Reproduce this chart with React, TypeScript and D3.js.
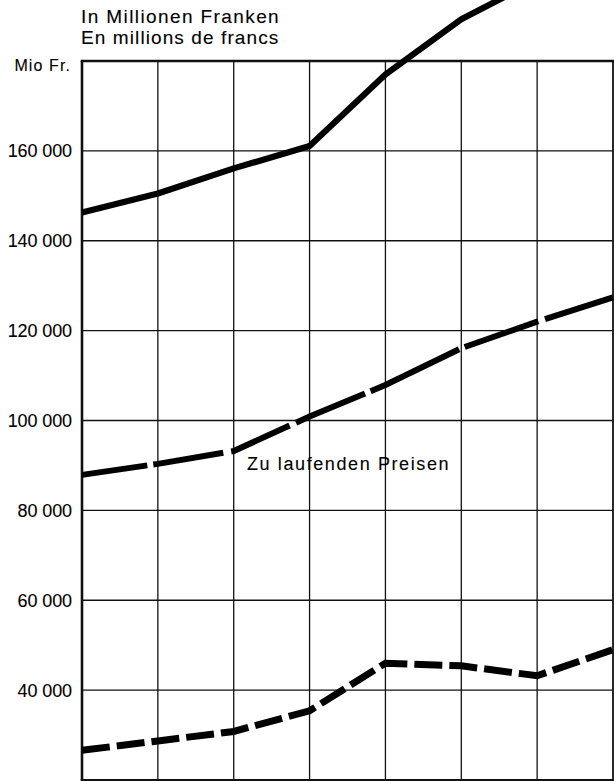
import React from "react";
import * as d3 from "d3";

// x positions: one per period (gridline)
const periods = [0, 1, 2, 3, 4, 5, 6, 7];
// y-axis tick values and labels
const yTicks = [40000, 60000, 80000, 100000, 120000, 140000, 160000];
const yTickLabels = ["40 000", "60 000", "80 000", "100 000", "120 000", "140 000", "160 000"];
const topLabel = "Mio Fr.";
const titleLines = ["In Millionen Franken", "En millions de francs"];
const seriesLabel = "Zu laufenden Preisen";

// series values (Mio Fr.)
const solidSeries = [146300, 150500, 156100, 161100, 177000, 189300, 198000, 207000];
const midDashedSeries = [87900, 90350, 93200, 100900, 107900, 116100, 122000, 127400];
const lowDashedSeries = [26600, 28700, 30800, 35400, 46000, 45400, 43200, 49000];

const W = 614;
const H = 781;

export default function App() {
  const x = d3.scaleLinear().domain([0, 7]).range([82, 613]);
  const y = d3.scaleLinear().domain([20000, 180000]).range([780, 61]);
  const line = d3
    .line<number>()
    .x((_, i) => x(periods[i]))
    .y((d) => y(d));

  const font = "'Liberation Sans', Arial, Helvetica, sans-serif";
  const textStroke = { stroke: "#000", strokeWidth: 0.1 };

  return (
    <svg
      width={W}
      height={H}
      style={{ position: "absolute", left: 0, top: 0, background: "#fff" }}
      fontFamily={font}
    >
      <rect x={0} y={0} width={W} height={H} fill="#fff" />
      {/* vertical gridlines */}
      {periods.map((p) => (
        <line
          key={"v" + p}
          x1={x(p)}
          x2={x(p)}
          y1={y(180000)}
          y2={y(20000)}
          stroke="#111"
          strokeWidth={p === 0 ? 2.6 : p === 7 ? 1.8 : 1.3}
        />
      ))}
      {/* horizontal gridlines */}
      {yTicks.map((t) => (
        <line
          key={"h" + t}
          x1={x(0)}
          x2={x(7)}
          y1={y(t)}
          y2={y(t)}
          stroke="#111"
          strokeWidth={1.3}
        />
      ))}
      <line x1={x(0) - 1.3} x2={x(7) + 1} y1={y(180000)} y2={y(180000)} stroke="#111" strokeWidth={2.6} />
      <line x1={x(0) - 1.3} x2={x(7) + 1} y1={y(20000)} y2={y(20000)} stroke="#111" strokeWidth={1.8} />

      {/* tick labels */}
      {yTicks.map((t, i) => (
        <text
          key={"t" + t}
          x={72}
          y={y(t) + 6.5}
          textAnchor="end"
          fontSize={18}
          letterSpacing={-0.1}
          fill="#000"
          {...textStroke}
        >
          {yTickLabels[i]}
        </text>
      ))}
      <text x={71} y={y(180000) + 9.5} textAnchor="end" fontSize={16} letterSpacing={1.1} fill="#000" {...textStroke}>
        {topLabel}
      </text>

      {/* title */}
      <text x={81} y={23} fontSize={19} letterSpacing={1.4} fill="#000" {...textStroke}>
        {titleLines[0]}
      </text>
      <text x={81} y={44} fontSize={19} letterSpacing={1.1} fill="#000" {...textStroke}>
        {titleLines[1]}
      </text>

      {/* series */}
      <path d={line(solidSeries) || ""} fill="none" stroke="#000" strokeWidth={6.2} strokeLinejoin="round" />
      <path
        d={line(midDashedSeries) || ""}
        fill="none"
        stroke="#000"
        strokeWidth={6}
        strokeDasharray="66,6,71,8,64,7,75,6,98,6,78,7,80"
      />
      <path
        d={line(lowDashedSeries) || ""}
        fill="none"
        stroke="#000"
        strokeWidth={7}
        strokeDasharray="28,7"
      />

      <text x={247} y={469.5} fontSize={18} letterSpacing={1.6} fill="#000" {...textStroke}>
        {seriesLabel}
      </text>
    </svg>
  );
}
